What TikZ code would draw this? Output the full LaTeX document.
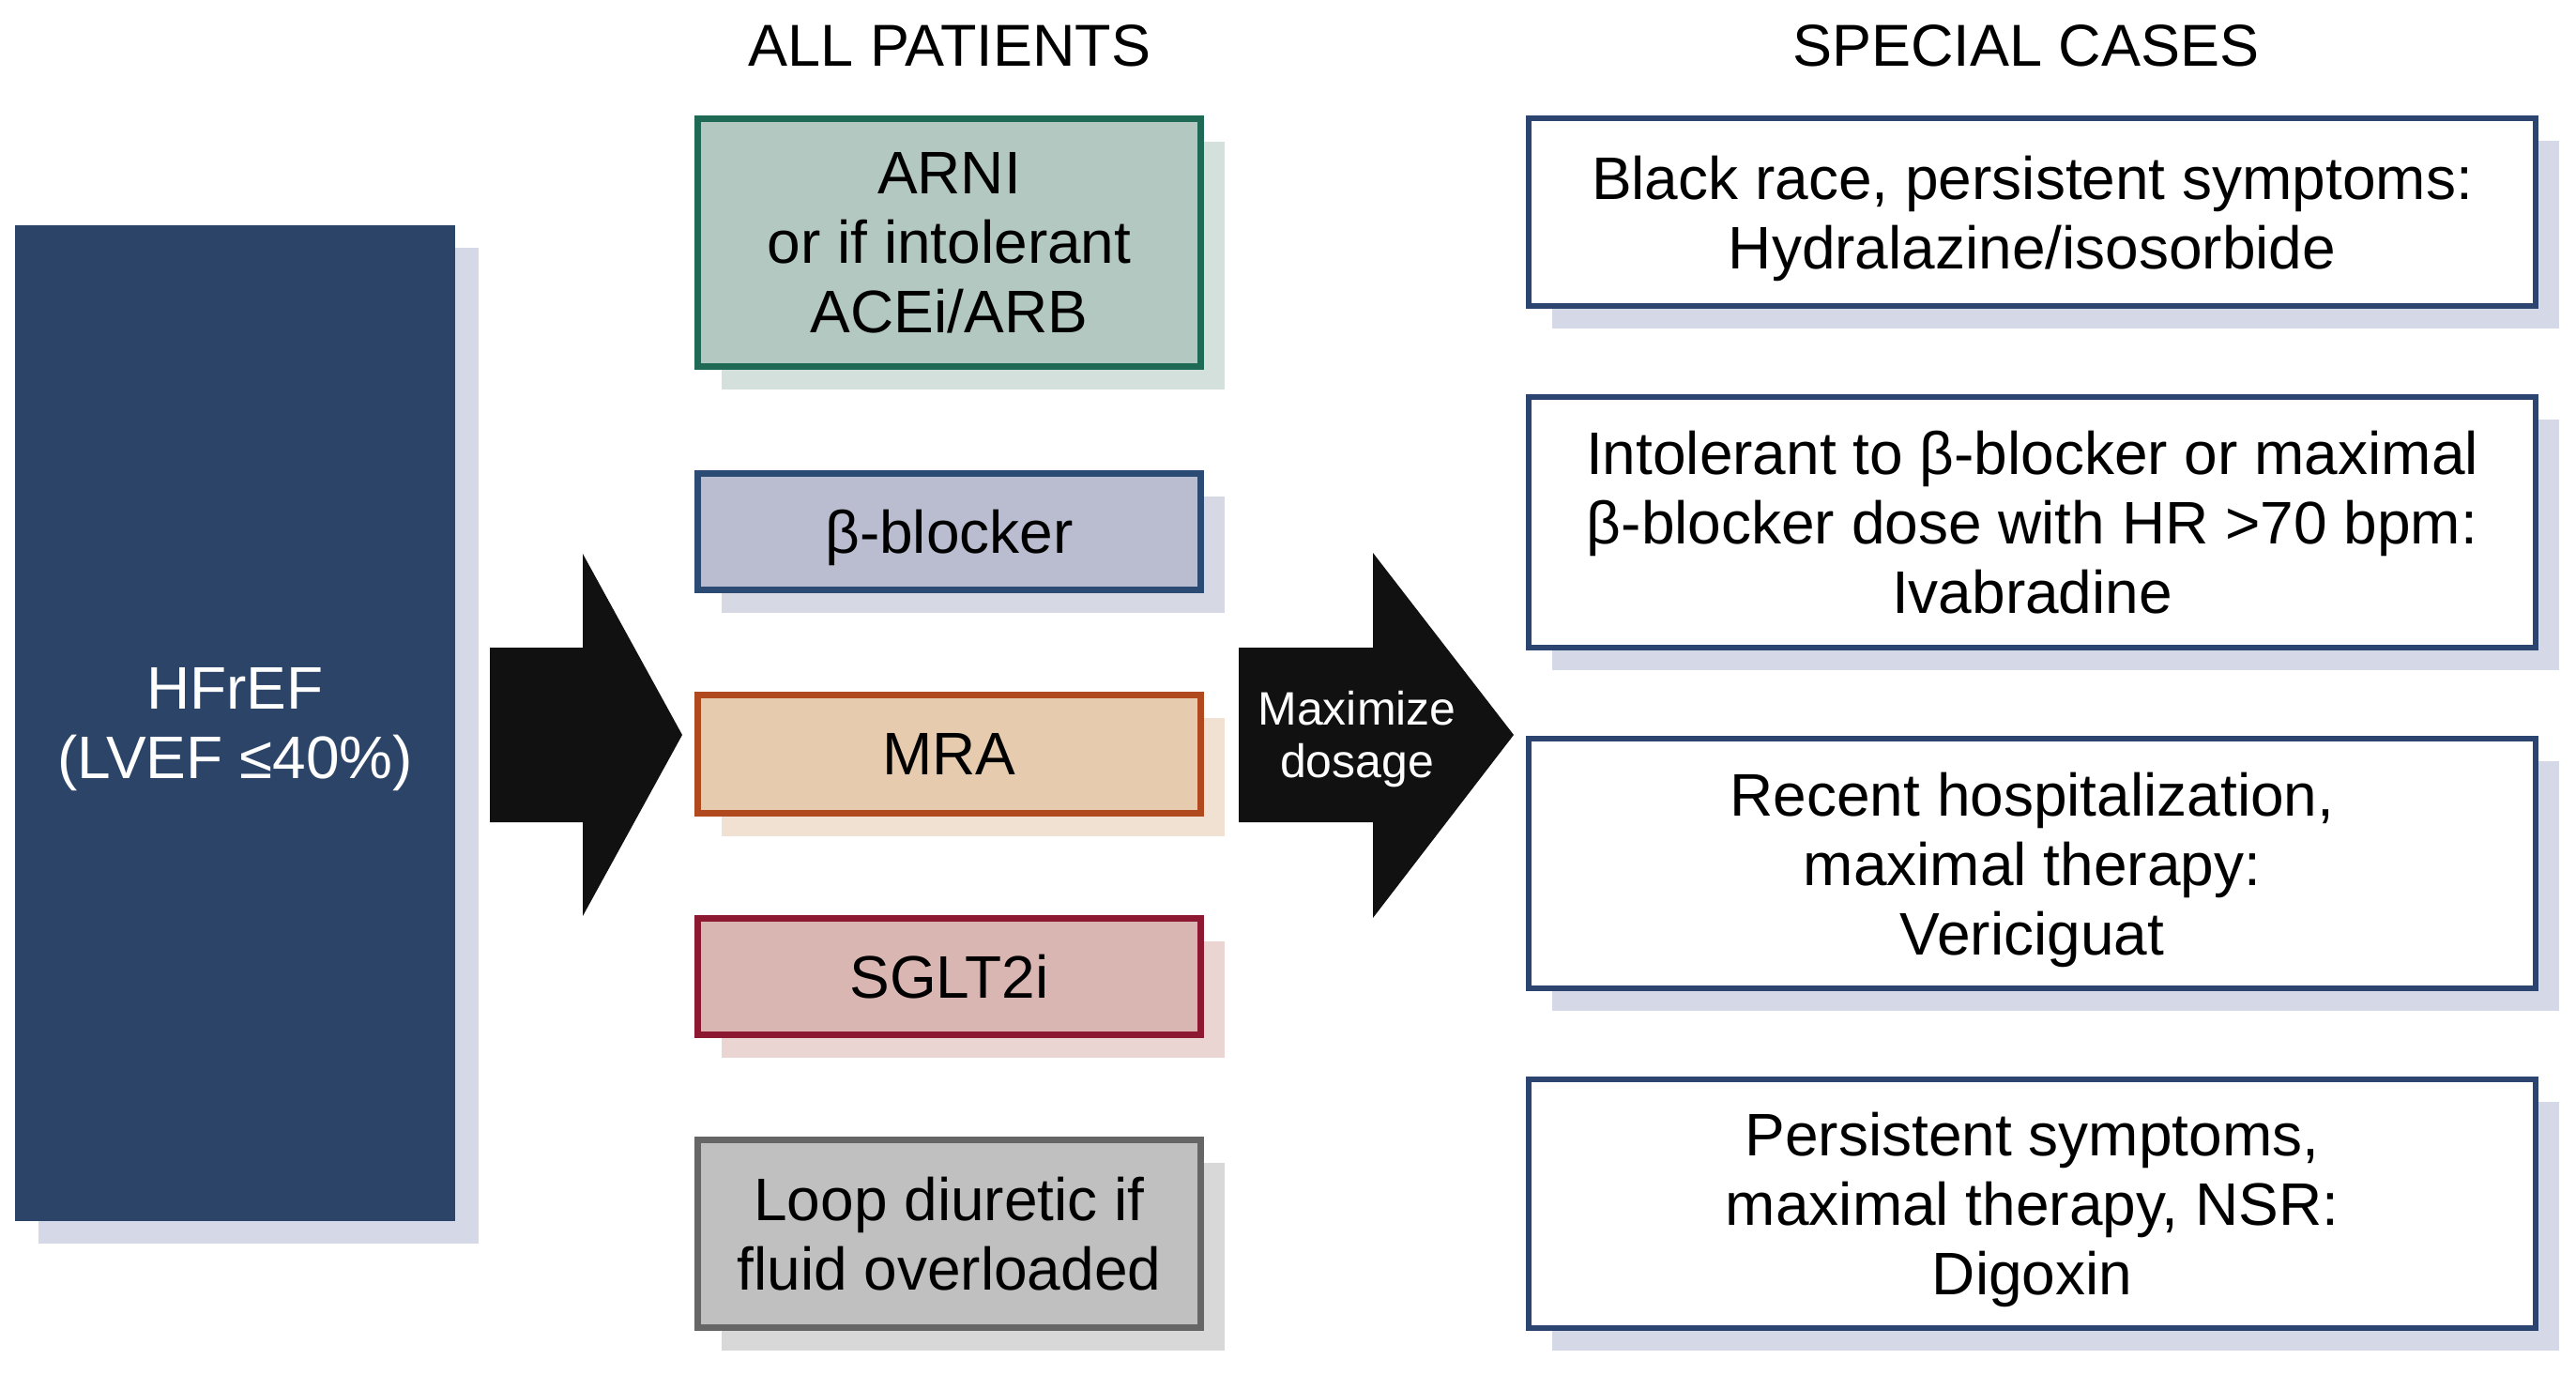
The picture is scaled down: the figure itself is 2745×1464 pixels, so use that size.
\documentclass[tikz,border=0pt]{standalone}
\usepackage{fontspec}
\setmainfont{Liberation Sans}
\usetikzlibrary{shadows}
\definecolor{navy}{HTML}{2B4468}
\definecolor{navysh}{HTML}{D5D8E6}
\definecolor{arnifill}{HTML}{B3C8C0}
\definecolor{arniline}{HTML}{1F6A55}
\definecolor{arnish}{HTML}{D4E0DB}
\definecolor{betafill}{HTML}{B9BDCF}
\definecolor{betaline}{HTML}{2B4A74}
\definecolor{betash}{HTML}{D6D9E4}
\definecolor{mrafill}{HTML}{E6CBAE}
\definecolor{mraline}{HTML}{B04A1E}
\definecolor{mrash}{HTML}{F0E1D3}
\definecolor{sgltfill}{HTML}{DAB6B3}
\definecolor{sgltline}{HTML}{8C1832}
\definecolor{sgltsh}{HTML}{EBD5D2}
\definecolor{loopfill}{HTML}{C0C0C0}
\definecolor{loopline}{HTML}{666666}
\definecolor{loopsh}{HTML}{D8D8D8}
\definecolor{caseline}{HTML}{2B4570}
\definecolor{arrowblk}{HTML}{111111}
\tikzset{
  txt/.style={font=\fontsize{64}{74}\selectfont, align=center, text depth=0pt},
  shad/.style={drop shadow={shadow xshift=25pt, shadow yshift=-24pt, fill=#1, opacity=1}},
  drugbox/.style n args={3}{rectangle, txt, fill=#1, draw=#2, line width=7pt,
     shad=#3, minimum width=536pt, inner sep=0pt},
  casebox/.style={rectangle, txt, fill=white, draw=caseline, line width=6pt,
     shad=navysh, minimum width=1073pt, inner sep=0pt},
  title/.style={font=\fontsize{63}{70}\selectfont},
  blockarrow/.style={fill=arrowblk, draw=none}
}
\begin{document}
\begin{tikzpicture}[x=1pt,y=-1pt]
\useasboundingbox (0,0) rectangle (2745,1464);
\fill[white] (0,0) rectangle (2745,1464);

% titles
\node[title] (tall) at (1012,49) {ALL PATIENTS};
\node[title] (tspec) at (2159,49) {SPECIAL CASES};

% main box
\node[rectangle, txt, fill=navy, text=white, shad=navysh, minimum width=469pt,
      minimum height=1061pt, inner sep=0pt] (hf) at (250.5,770.5)
      {HFrEF\\(LVEF ≤40\%)};

% all patients
\node[drugbox={arnifill}{arniline}{arnish}, minimum height=264pt] (arni) at (1011.5,258.5)
  {ARNI\\or if intolerant\\ACEi/ARB};
\node[drugbox={betafill}{betaline}{betash}, minimum height=124pt] (beta) at (1011.5,566.5)
  {β-blocker};
\node[drugbox={mrafill}{mraline}{mrash}, minimum height=126pt] (mra) at (1011.5,803.5)
  {MRA};
\node[drugbox={sgltfill}{sgltline}{sgltsh}, minimum height=124pt] (sglt) at (1011.5,1040.5)
  {SGLT2i};
\node[drugbox={loopfill}{loopline}{loopsh}, minimum height=200pt] (loop) at (1011.5,1314.5)
  {Loop diuretic if\\fluid overloaded};

% special cases
\node[casebox, minimum height=200pt] (c1) at (2165.5,226)
  {Black race, persistent symptoms:\\Hydralazine/isosorbide};
\node[casebox, minimum height=267pt] (c2) at (2165.5,556.5)
  {Intolerant to β-blocker or maximal\\β-blocker dose with HR >70 bpm:\\Ivabradine};
\node[casebox, minimum height=266pt] (c3) at (2165.5,920)
  {Recent hospitalization,\\maximal therapy:\\Vericiguat};
\node[casebox, minimum height=265pt] (c4) at (2165.5,1282.5)
  {Persistent symptoms,\\maximal therapy, NSR:\\Digoxin};

% block arrows
\coordinate (a1) at (522,783);
\coordinate (a2) at (1320,783);
\fill[blockarrow] ([yshift=93pt]a1) -- ++(99,0) -- ++(0,-100) -- ++(106,193)
   -- ++(-106,193) -- ++(0,-100) -- ++(-99,0) -- cycle;
\fill[blockarrow] ([yshift=93pt]a2) -- ++(143,0) -- ++(0,-101) -- ++(150,194)
   -- ++(-150,195) -- ++(0,-102) -- ++(-143,0) -- cycle;
\node[font=\fontsize{50}{56}\selectfont, text=white, align=center] (maxd) at (1446,788)
  {Maximize\\dosage};
\end{tikzpicture}
\end{document}
